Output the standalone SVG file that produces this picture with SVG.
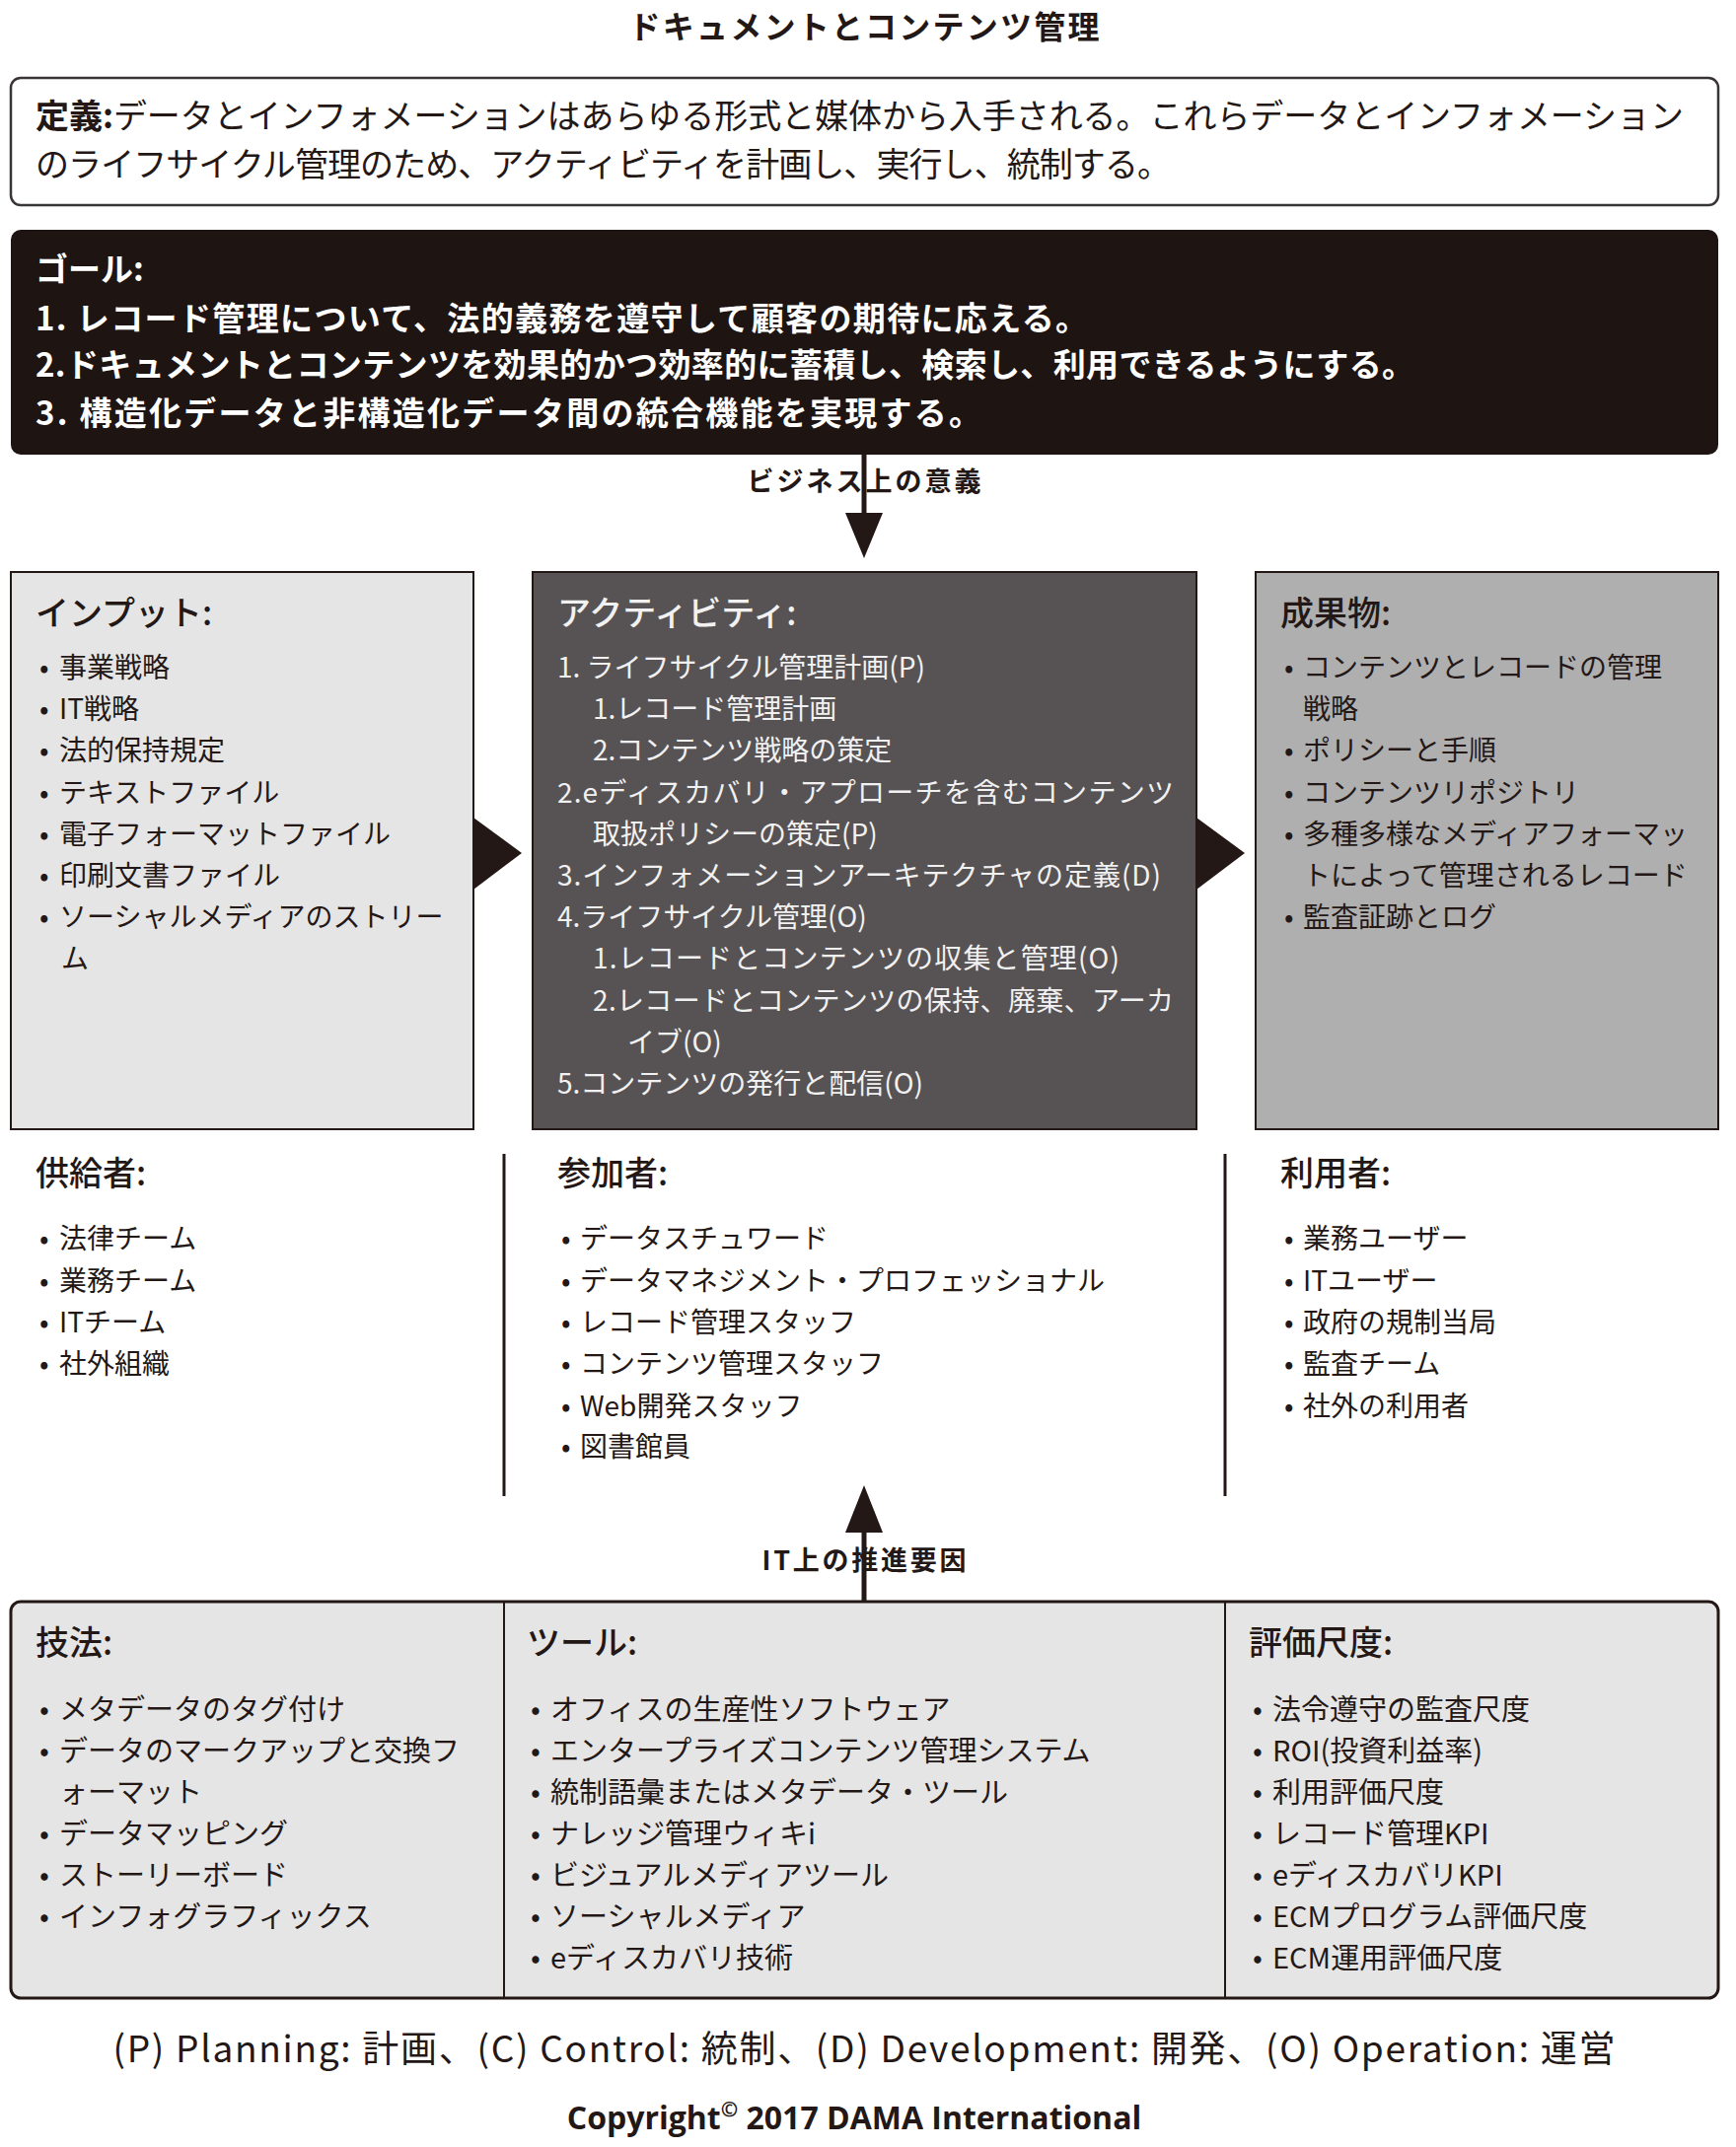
<svg xmlns="http://www.w3.org/2000/svg" width="1760" height="2177" viewBox="0 0 1760 2177">
<style>
text{font-family:"Noto Sans CJK JP","Noto Sans",sans-serif;fill:#231815}
.it{font-size:28px}
.it29{font-size:29px}
.hd{font-size:34px;font-weight:500}
.wh{fill:#f2f1f1}
.gl{font-size:33px;font-weight:bold;fill:#ffffff}
.lbl{font-size:27px;font-weight:bold;text-anchor:middle}
.box{stroke:#231815;stroke-width:2}
.conn{stroke:#231815;stroke-width:5;fill:none}
.ah{fill:#231815}
</style>
<rect width="1760" height="2177" fill="#ffffff"/>

<g id="title">
<text x="876" y="39" font-size="32" font-weight="bold" text-anchor="middle" textLength="477">ドキュメントとコンテンツ管理</text>
</g>

<g id="definition">
<rect x="11" y="79" width="1731" height="129" rx="10" fill="#ffffff" stroke="#3a3535" stroke-width="2.5"/>
<text x="36" y="130" font-size="34" textLength="1671"><tspan font-weight="bold">定義:</tspan>データとインフォメーションはあらゆる形式と媒体から入手される。これらデータとインフォメーション</text>
<text x="36" y="179" font-size="34" textLength="1151">のライフサイクル管理のため、アクティビティを計画し、実行し、統制する。</text>
</g>

<g id="goals">
<rect x="11" y="233" width="1731" height="228" rx="10" fill="#1e1412"/>
<text class="gl" x="36" y="285">ゴール:</text>
<text class="gl" x="36" y="335" textLength="1067">1. レコード管理について、法的義務を遵守して顧客の期待に応える。</text>
<text class="gl" x="36" y="382" textLength="1398">2.ドキュメントとコンテンツを効果的かつ効率的に蓄積し、検索し、利用できるようにする。</text>
<text class="gl" x="36" y="431" textLength="959">3. 構造化データと非構造化データ間の統合機能を実現する。</text>
</g>

<g id="connectors">
<line class="conn" x1="876" y1="461" x2="876" y2="524"/>
<polygon class="ah" points="857,520 895,520 876,566"/>
<line class="conn" x1="876" y1="1624" x2="876" y2="1550"/>
<polygon class="ah" points="857,1554 895,1554 876,1506"/>
<polygon class="ah" points="480,829 529,865 480,902"/>
<polygon class="ah" points="1213,829 1262,865 1213,902"/>
<line x1="511" y1="1170" x2="511" y2="1517" stroke="#231815" stroke-width="3"/>
<line x1="1242" y1="1170" x2="1242" y2="1517" stroke="#231815" stroke-width="3"/>
<text class="lbl" x="876" y="498" textLength="237">ビジネス上の意義</text>
<text class="lbl" x="876" y="1592" textLength="207">IT上の推進要因</text>
</g>

<g id="inputs">
<rect class="box" x="11" y="580" width="469" height="565" fill="#e6e5e5"/>
<text class="hd" x="36" y="634">インプット:</text>
<text class="it" y="687"><tspan x="40">•</tspan><tspan x="60">事業戦略</tspan></text>
<text class="it" y="729"><tspan x="40">•</tspan><tspan x="60">IT戦略</tspan></text>
<text class="it" y="771"><tspan x="40">•</tspan><tspan x="60">法的保持規定</tspan></text>
<text class="it" y="814"><tspan x="40">•</tspan><tspan x="60">テキストファイル</tspan></text>
<text class="it" y="856"><tspan x="40">•</tspan><tspan x="60">電子フォーマットファイル</tspan></text>
<text class="it" y="898"><tspan x="40">•</tspan><tspan x="60">印刷文書ファイル</tspan></text>
<text class="it" y="940"><tspan x="40">•</tspan><tspan x="60">ソーシャルメディアのストリー</tspan></text>
<text class="it" x="62" y="982">ム</text>
</g>

<g id="activities">
<rect class="box" x="540" y="580" width="673" height="565" fill="#575354"/>
<text class="hd wh" x="565" y="634">アクティビティ:</text>
<text class="it wh" x="565" y="687" font-size="28.5">1. ライフサイクル管理計画(P)</text>
<text class="it wh" x="601" y="729" font-size="28.5">1.レコード管理計画</text>
<text class="it wh" x="601" y="771" font-size="28.5">2.コンテンツ戦略の策定</text>
<text class="it wh" x="565" y="814" font-size="28.5" textLength="625">2.eディスカバリ・アプローチを含むコンテンツ</text>
<text class="it wh" x="601" y="856" font-size="28.5">取扱ポリシーの策定(P)</text>
<text class="it wh" x="565" y="898" font-size="28.5" textLength="612">3.インフォメーションアーキテクチャの定義(D)</text>
<text class="it wh" x="565" y="940" font-size="28.5">4.ライフサイクル管理(O)</text>
<text class="it wh" x="601" y="982" font-size="28.5" textLength="534">1.レコードとコンテンツの収集と管理(O)</text>
<text class="it wh" x="601" y="1025" font-size="28.5" textLength="589">2.レコードとコンテンツの保持、廃棄、アーカ</text>
<text class="it wh" x="636" y="1067" font-size="28.5">イブ(O)</text>
<text class="it wh" x="565" y="1109" font-size="28.5">5.コンテンツの発行と配信(O)</text>
</g>

<g id="deliverables">
<rect class="box" x="1273" y="580" width="469" height="565" fill="#b0afb0"/>
<text class="hd" x="1298" y="634">成果物:</text>
<text class="it" y="687"><tspan x="1302">•</tspan><tspan x="1321">コンテンツとレコードの管理</tspan></text>
<text class="it" x="1321" y="729">戦略</text>
<text class="it" y="771"><tspan x="1302">•</tspan><tspan x="1321">ポリシーと手順</tspan></text>
<text class="it" y="814"><tspan x="1302">•</tspan><tspan x="1321">コンテンツリポジトリ</tspan></text>
<text class="it" y="856"><tspan x="1302">•</tspan><tspan x="1321">多種多様なメディアフォーマッ</tspan></text>
<text class="it" x="1321" y="898">トによって管理されるレコード</text>
<text class="it" y="940"><tspan x="1302">•</tspan><tspan x="1321">監査証跡とログ</tspan></text>
</g>

<g id="suppliers">
<text class="hd" x="36" y="1202">供給者:</text>
<text class="it" y="1266"><tspan x="40">•</tspan><tspan x="60">法律チーム</tspan></text>
<text class="it" y="1309"><tspan x="40">•</tspan><tspan x="60">業務チーム</tspan></text>
<text class="it" y="1351"><tspan x="40">•</tspan><tspan x="60">ITチーム</tspan></text>
<text class="it" y="1393"><tspan x="40">•</tspan><tspan x="60">社外組織</tspan></text>
</g>

<g id="participants">
<text class="hd" x="565" y="1202">参加者:</text>
<text class="it" y="1266"><tspan x="569">•</tspan><tspan x="588">データスチュワード</tspan></text>
<text class="it" y="1309"><tspan x="569">•</tspan><tspan x="588">データマネジメント・プロフェッショナル</tspan></text>
<text class="it" y="1351"><tspan x="569">•</tspan><tspan x="588">レコード管理スタッフ</tspan></text>
<text class="it" y="1393"><tspan x="569">•</tspan><tspan x="588">コンテンツ管理スタッフ</tspan></text>
<text class="it" y="1436"><tspan x="569">•</tspan><tspan x="588">Web開発スタッフ</tspan></text>
<text class="it" y="1477"><tspan x="569">•</tspan><tspan x="588">図書館員</tspan></text>
</g>

<g id="consumers">
<text class="hd" x="1298" y="1202">利用者:</text>
<text class="it" y="1266"><tspan x="1302">•</tspan><tspan x="1321">業務ユーザー</tspan></text>
<text class="it" y="1309"><tspan x="1302">•</tspan><tspan x="1321">ITユーザー</tspan></text>
<text class="it" y="1351"><tspan x="1302">•</tspan><tspan x="1321">政府の規制当局</tspan></text>
<text class="it" y="1393"><tspan x="1302">•</tspan><tspan x="1321">監査チーム</tspan></text>
<text class="it" y="1436"><tspan x="1302">•</tspan><tspan x="1321">社外の利用者</tspan></text>
</g>

<g id="bottom-box">
<rect x="11" y="1624" width="1731" height="402" rx="10" fill="#e6e5e5" stroke="#231815" stroke-width="3"/>
<line x1="511" y1="1624" x2="511" y2="2026" stroke="#231815" stroke-width="2"/>
<line x1="1242" y1="1624" x2="1242" y2="2026" stroke="#231815" stroke-width="2"/>
</g>

<g id="techniques">
<text class="hd" x="36" y="1678">技法:</text>
<text class="it29" y="1744"><tspan x="40">•</tspan><tspan x="60">メタデータのタグ付け</tspan></text>
<text class="it29" y="1786"><tspan x="40">•</tspan><tspan x="60">データのマークアップと交換フ</tspan></text>
<text class="it29" x="60" y="1828">ォーマット</text>
<text class="it29" y="1870"><tspan x="40">•</tspan><tspan x="60">データマッピング</tspan></text>
<text class="it29" y="1912"><tspan x="40">•</tspan><tspan x="60">ストーリーボード</tspan></text>
<text class="it29" y="1954"><tspan x="40">•</tspan><tspan x="60">インフォグラフィックス</tspan></text>
</g>

<g id="tools">
<text class="hd" x="534" y="1678">ツール:</text>
<text class="it29" y="1744"><tspan x="538">•</tspan><tspan x="558">オフィスの生産性ソフトウェア</tspan></text>
<text class="it29" y="1786"><tspan x="538">•</tspan><tspan x="558">エンタープライズコンテンツ管理システム</tspan></text>
<text class="it29" y="1828"><tspan x="538">•</tspan><tspan x="558">統制語彙またはメタデータ・ツール</tspan></text>
<text class="it29" y="1870"><tspan x="538">•</tspan><tspan x="558">ナレッジ管理ウィキi</tspan></text>
<text class="it29" y="1912"><tspan x="538">•</tspan><tspan x="558">ビジュアルメディアツール</tspan></text>
<text class="it29" y="1954"><tspan x="538">•</tspan><tspan x="558">ソーシャルメディア</tspan></text>
<text class="it29" y="1996"><tspan x="538">•</tspan><tspan x="558">eディスカバリ技術</tspan></text>
</g>

<g id="metrics">
<text class="hd" x="1266" y="1678">評価尺度:</text>
<text class="it29" y="1744"><tspan x="1270">•</tspan><tspan x="1290">法令遵守の監査尺度</tspan></text>
<text class="it29" y="1786"><tspan x="1270">•</tspan><tspan x="1290">ROI(投資利益率)</tspan></text>
<text class="it29" y="1828"><tspan x="1270">•</tspan><tspan x="1290">利用評価尺度</tspan></text>
<text class="it29" y="1870"><tspan x="1270">•</tspan><tspan x="1290">レコード管理KPI</tspan></text>
<text class="it29" y="1912"><tspan x="1270">•</tspan><tspan x="1290">eディスカバリKPI</tspan></text>
<text class="it29" y="1954"><tspan x="1270">•</tspan><tspan x="1290">ECMプログラム評価尺度</tspan></text>
<text class="it29" y="1996"><tspan x="1270">•</tspan><tspan x="1290">ECM運用評価尺度</tspan></text>
</g>

<g id="footer">
<text x="876" y="2091" font-size="37" text-anchor="middle" textLength="1523">(P) Planning: 計画、(C) Control: 統制、(D) Development: 開発、(O) Operation: 運営</text>
<text x="866" y="2159" font-size="32" font-weight="bold" text-anchor="middle" style="font-family:'Open Sans','Noto Sans',sans-serif">Copyright<tspan font-size="21" dy="-13">©</tspan><tspan dy="13"> 2017 DAMA International</tspan></text>
</g>
</svg>
